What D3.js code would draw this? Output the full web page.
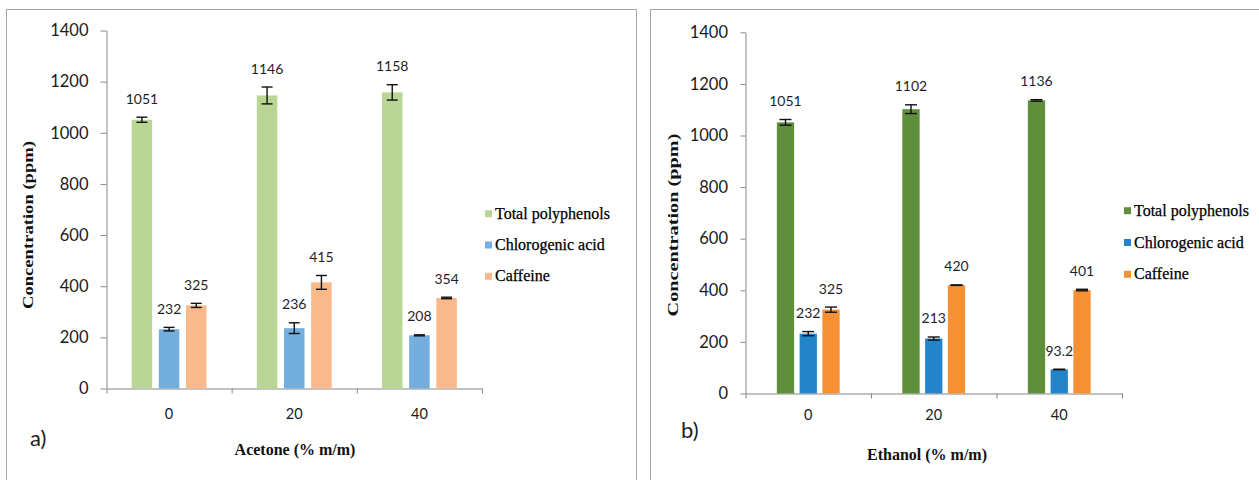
<!DOCTYPE html>
<html>
<head>
<meta charset="utf-8">
<script src="https://cdn.jsdelivr.net/npm/d3@7"></script>
<style>
  body { margin: 0; background: #fff; }
  svg { display: block; }
</style>
</head>
<body>
<svg id="chart" width="1259" height="480"></svg>
<script>
// Solvent concentration groups and measured compounds
const categories = ["0", "20", "40"];
const seriesNames = ["Total polyphenols", "Chlorogenic acid", "Caffeine"];
const yTicks = [0, 200, 400, 600, 800, 1000, 1200, 1400];

// Acetone extracts (ppm) and their error bars
const acetoneTotalPolyphenols = [1051, 1146, 1158];
const acetoneChlorogenicAcid = [232, 236, 208];
const acetoneCaffeine = [325, 415, 354];
const acetoneTotalPolyphenolsErr = [10, 33, 30];
const acetoneChlorogenicAcidErr = [7, 21, 2];
const acetoneCaffeineErr = [8, 27, 3];

// Ethanol extracts (ppm) and their error bars
const ethanolTotalPolyphenols = [1051, 1102, 1136];
const ethanolChlorogenicAcid = [232, 213, 93.2];
const ethanolCaffeine = [325, 420, 401];
const ethanolTotalPolyphenolsErr = [11, 17, 3];
const ethanolChlorogenicAcidErr = [8, 6, 1];
const ethanolCaffeineErr = [10, 1, 3];

const svg = d3.select("#chart");

function buildRows(values, errors) {
  return categories.map((c, i) => ({
    category: c,
    items: seriesNames.map((s, k) => ({ series: s, value: values[k][i], err: errors[k][i] }))
  }));
}

function drawPanel(cfg) {
  const g = svg.append("g");

  // panel frame (bottom edge runs just past the canvas)
  g.append("rect")
    .attr("x", cfg.frame[0]).attr("y", cfg.frame[1])
    .attr("width", cfg.frame[2] - cfg.frame[0]).attr("height", cfg.frame[3] - cfg.frame[1])
    .attr("fill", "#fff").attr("stroke", "#a6a6a6").attr("stroke-width", 1);

  const y = d3.scaleLinear().domain([0, 1400]).range([cfg.bottom, cfg.top]);
  const x0 = d3.scaleBand().domain(categories).range([cfg.left, cfg.right]).padding(0);
  const x1 = d3.scaleBand().domain(seriesNames).range([0, x0.bandwidth()])
    .paddingInner(cfg.padInner).paddingOuter(cfg.padOuter);
  const color = d3.scaleOrdinal().domain(seriesNames).range(cfg.colors);

  const rows = buildRows(cfg.values, cfg.errors);

  // y axis
  const yAxis = g.append("g")
    .attr("transform", `translate(${cfg.left},0)`)
    .call(d3.axisLeft(y).tickValues(yTicks).tickFormat(d3.format("d"))
      .tickSize(cfg.tickLen).tickSizeOuter(0).tickPadding(cfg.tickPad));
  yAxis.select(".domain").attr("stroke", "#868686");
  yAxis.selectAll(".tick line").attr("stroke", "#868686");
  yAxis.selectAll(".tick text")
    .attr("font-family", "Lato, 'Open Sans', sans-serif")
    .attr("font-size", 16.5).attr("fill", "#1a1a1a");

  // x axis: baseline, boundary ticks and category labels
  const xb = d3.scaleLinear().domain([0, categories.length]).range([cfg.left, cfg.right]);
  const xAxis = g.append("g")
    .attr("transform", `translate(0,${cfg.bottom})`)
    .call(d3.axisBottom(xb).tickValues(d3.range(categories.length + 1)).tickSize(5).tickSizeOuter(0).tickFormat(""));
  xAxis.select(".domain").attr("stroke", "#868686");
  xAxis.selectAll(".tick line").attr("stroke", "#868686");

  g.selectAll("text.cat").data(categories).join("text")
    .attr("class", "cat")
    .attr("x", d => x0(d) + x0.bandwidth() / 2)
    .attr("y", cfg.catY)
    .attr("text-anchor", "middle").attr("dominant-baseline", "central")
    .attr("font-family", "Lato, 'Open Sans', sans-serif")
    .attr("font-size", 14.5).attr("fill", "#1a1a1a")
    .text(d => d);

  // bars
  const groups = g.selectAll("g.grp").data(rows).join("g")
    .attr("class", "grp")
    .attr("transform", d => `translate(${x0(d.category)},0)`);

  groups.selectAll("rect").data(d => d.items).join("rect")
    .attr("x", d => x1(d.series))
    .attr("width", x1.bandwidth())
    .attr("y", d => y(d.value))
    .attr("height", d => y(0) - y(d.value))
    .attr("fill", d => color(d.series));

  // error bars
  const eb = groups.selectAll("g.err").data(d => d.items).join("g").attr("class", "err");
  const cx = d => x1(d.series) + x1.bandwidth() / 2;
  const cap = cfg.capWidth / 2;
  eb.append("line")
    .attr("x1", cx).attr("x2", cx)
    .attr("y1", d => y(d.value - d.err)).attr("y2", d => y(d.value + d.err));
  eb.append("line")
    .attr("x1", d => cx(d) - cap).attr("x2", d => cx(d) + cap)
    .attr("y1", d => y(d.value + d.err)).attr("y2", d => y(d.value + d.err));
  eb.append("line")
    .attr("x1", d => cx(d) - cap).attr("x2", d => cx(d) + cap)
    .attr("y1", d => y(d.value - d.err)).attr("y2", d => y(d.value - d.err));
  eb.selectAll("line").attr("stroke", "#111").attr("stroke-width", 1.4);

  // value labels
  groups.selectAll("text.val").data(d => d.items).join("text")
    .attr("class", "val")
    .attr("x", cx)
    .attr("y", d => y(d.value + d.err) - 19)
    .attr("text-anchor", "middle").attr("dominant-baseline", "central")
    .attr("font-family", "Lato, 'Open Sans', sans-serif")
    .attr("font-size", 14).attr("fill", "#1e1e2a")
    .text(d => String(d.value));

  // axis titles
  g.append("text")
    .attr("transform", `translate(${cfg.yTitle[0]},${cfg.yTitle[1]}) rotate(-90)`)
    .attr("text-anchor", "middle").attr("dominant-baseline", "central")
    .attr("font-family", "'Liberation Serif', 'Times New Roman', serif")
    .attr("font-weight", "bold").attr("font-size", cfg.yTitleSize)
    .attr("textLength", cfg.yTitleLen).attr("lengthAdjust", "spacingAndGlyphs")
    .attr("fill", "#111")
    .text("Concentration (ppm)");

  g.append("text")
    .attr("x", cfg.xTitle[0]).attr("y", cfg.xTitle[1])
    .attr("text-anchor", "middle").attr("dominant-baseline", "central")
    .attr("font-family", "'Liberation Serif', 'Times New Roman', serif")
    .attr("font-weight", "bold").attr("font-size", 16).attr("fill", "#111")
    .text(cfg.xLabel);

  // panel tag
  g.append("text")
    .attr("x", cfg.tag[0]).attr("y", cfg.tag[1])
    .attr("font-family", "Lato, 'Open Sans', sans-serif")
    .attr("font-size", 22).attr("fill", "#222")
    .text(cfg.tagText);

  // legend
  const lg = g.selectAll("g.leg").data(seriesNames).join("g")
    .attr("class", "leg")
    .attr("transform", (d, i) => `translate(${cfg.legend[0]},${cfg.legend[1] + i * cfg.legend[2]})`);
  lg.append("rect").attr("x", 0).attr("y", -3.5).attr("width", 7).attr("height", 7)
    .attr("fill", d => color(d));
  lg.append("text").attr("x", 10).attr("y", 5)
    .attr("font-family", "'Liberation Serif', 'Times New Roman', serif")
    .attr("font-size", 16).attr("fill", "#000")
    .attr("stroke", "#000").attr("stroke-width", 0.25)
    .text(d => d);
}

drawPanel({
  frame: [6.5, 9.5, 636.5, 482],
  left: 106.5, right: 482, top: 30.5, bottom: 388.5,
  padInner: 0.246, padOuter: 0.926,
  tickLen: 6, tickPad: 12,
  capWidth: 11,
  colors: ["#bad695", "#73aedf", "#f9b98a"],
  values: [acetoneTotalPolyphenols, acetoneChlorogenicAcid, acetoneCaffeine],
  errors: [acetoneTotalPolyphenolsErr, acetoneChlorogenicAcidErr, acetoneCaffeineErr],
  catY: 413,
  yTitle: [28, 225], yTitleSize: 14, yTitleLen: 168,
  xTitle: [295, 449], xLabel: "Acetone (% m/m)",
  tag: [30, 446], tagText: "a)",
  legend: [485, 213.7, 31.3]
});

drawPanel({
  frame: [650.5, 9.5, 1261, 482],
  left: 745.5, right: 1122, top: 32.3, bottom: 393.5,
  padInner: 0.24, padOuter: 1.377,
  tickLen: 5, tickPad: 12.5,
  capWidth: 12,
  colors: ["#5f8f3b", "#2484c9", "#f69035"],
  values: [ethanolTotalPolyphenols, ethanolChlorogenicAcid, ethanolCaffeine],
  errors: [ethanolTotalPolyphenolsErr, ethanolChlorogenicAcidErr, ethanolCaffeineErr],
  catY: 414,
  yTitle: [673, 225], yTitleSize: 15, yTitleLen: 183,
  xTitle: [927, 454], xLabel: "Ethanol (% m/m)",
  tag: [681, 438], tagText: "b)",
  legend: [1124, 210.7, 31.8]
});
</script>
</body>
</html>
